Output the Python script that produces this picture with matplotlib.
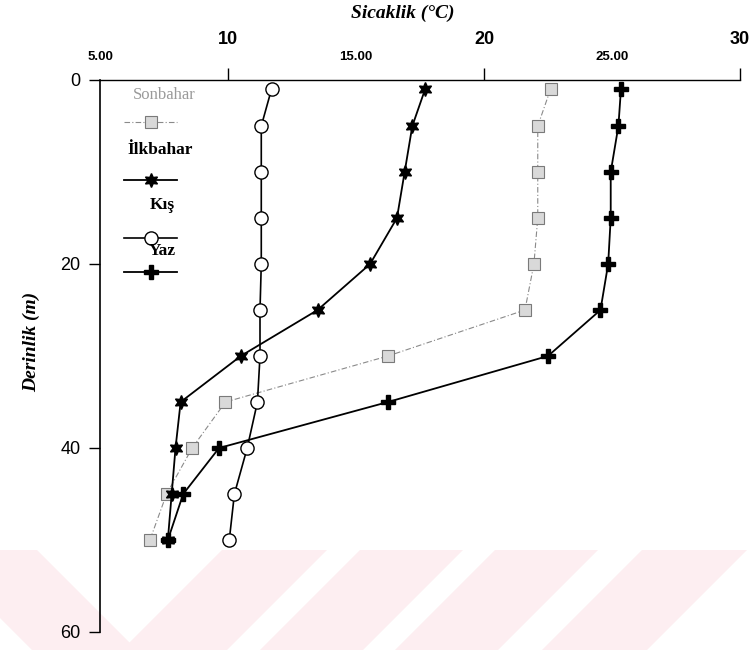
import matplotlib
matplotlib.use("Agg")
import matplotlib.pyplot as plt
from matplotlib.patches import Polygon

# derinlik (m) ve mevsimlere göre sıcaklık (°C)
derinlik = [1, 5, 10, 15, 20, 25, 30, 35, 40, 45, 50]
sonbahar = [22.6, 22.1, 22.1, 22.1, 21.95, 21.6, 16.25, 9.9, 8.6, 7.6, 6.95]
ilkbahar = [17.7, 17.2, 16.9, 16.6, 15.55, 13.5, 10.5, 8.15, 7.95, 7.8, 7.65]
kis = [11.7, 11.3, 11.3, 11.3, 11.3, 11.25, 11.25, 11.15, 10.75, 10.25, 10.05]
yaz = [25.35, 25.25, 24.95, 24.95, 24.85, 24.55, 22.5, 16.25, 9.65, 8.25, 7.65]

ust_tikler = [10, 20, 30]
ara_tikler = [5, 15, 25]
ara_etiketler = ["5.00", "15.00", "25.00"]
derinlik_tikleri = [0, 20, 40, 60]

serif = ["Liberation Serif", "DejaVu Serif"]
dar = ["Liberation Sans Narrow", "Liberation Sans", "DejaVu Sans"]

fig = plt.figure(figsize=(7.5, 6.5), dpi=100)

# arka plandaki pembe şeritler (piksel koordinatı, üstten)
seritler = [
    [(-68, 550), (37, 550), (137, 650), (32, 650)],
    [(222, 550), (327, 550), (227, 650), (122, 650)],
    [(360, 550), (463, 550), (363, 650), (260, 650)],
    [(495, 550), (598, 550), (498, 650), (395, 650)],
    [(642, 550), (747, 550), (647, 650), (542, 650)],
]
for s in seritler:
    pts = [(x / 750, 1 - y / 650) for x, y in s]
    fig.add_artist(Polygon(pts, closed=True, transform=fig.transFigure,
                           facecolor="#fdeef1", edgecolor="none", zorder=-5))

ax = fig.add_axes([100 / 750, 18 / 650, 640 / 750, 552 / 650])
ax.set_facecolor("none")

stiller = {
    "Sonbahar": dict(color="#8a8a8a", lw=0.8, ls=(0, (5, 2, 1, 2)), marker="s",
                     ms=9, mfc="#d9d9d9", mec="#7a7a7a", mew=0.8),
    "İlkbahar": dict(color="black", lw=1.3, marker=(6, 1, 0), ms=10,
                     mfc="black", mec="black"),
    "Kış": dict(color="black", lw=1.2, marker="o", ms=9.5, mfc="white",
                mec="black", mew=1.0),
    "Yaz": dict(color="black", lw=1.3, marker="P", ms=10, mfc="black",
                mec="black"),
}
seriler = {"Sonbahar": sonbahar, "İlkbahar": ilkbahar, "Kış": kis, "Yaz": yaz}

for ad, degerler in seriler.items():
    ax.plot(degerler, derinlik, clip_on=False, zorder=3, **stiller[ad])

ax.set_xlim(5, 30)
ax.set_ylim(60, 0)

for k in ["right", "bottom"]:
    ax.spines[k].set_visible(False)
ax.spines["top"].set_linewidth(1.0)
ax.spines["left"].set_linewidth(1.2)

ax.xaxis.tick_top()
ax.set_xticks(ust_tikler)
ax.set_xticklabels([str(t) for t in ust_tikler], family=dar, fontweight="bold",
                   fontsize=13)
ax.tick_params(axis="x", direction="out", length=9, width=1.0, pad=14)

ax.set_yticks(derinlik_tikleri)
ax.set_yticklabels([str(t) for t in derinlik_tikleri], family="Liberation Sans",
                   fontsize=13)
ax.tick_params(axis="y", direction="out", length=8, width=1.0, pad=6)

ikincil = ax.secondary_xaxis("top")
ikincil.set_xticks(ara_tikler)
ikincil.set_xticklabels(ara_etiketler, family=dar, fontweight="bold", fontsize=9.5)
ikincil.tick_params(length=0, pad=12)
ikincil.spines["top"].set_visible(False)

fig.text(403 / 750, 1 - 13 / 650, "Sicaklik (°C)", ha="center", va="center",
         family=serif, fontweight="bold", fontstyle="italic", fontsize=14)
fig.text(31 / 750, 1 - 342 / 650, "Derinlik (m)", ha="center", va="center",
         rotation=90, family=serif, fontweight="bold", fontstyle="italic",
         fontsize=14)

# elle yerleştirilmiş açıklama: etiket üstte, işaret altta
aciklama = [
    ("Sonbahar", 0.101, 0.973, 0.924, "normal", "#9a9a9a", 12),
    ("İlkbahar", 0.094, 0.873, 0.819, "bold", "black", 12.5),
    ("Kış", 0.098, 0.773, 0.714, "bold", "black", 12.5),
    ("Yaz", 0.098, 0.690, 0.652, "bold", "black", 12.5),
]
for ad, tx, ty, ly, kalinlik, renk, boy in aciklama:
    ax.text(tx, ty, ad, transform=ax.transAxes, ha="center", va="center",
            family=serif, fontweight=kalinlik, color=renk, fontsize=boy)
    ax.plot([0.037, 0.12], [ly, ly], transform=ax.transAxes, clip_on=False,
            **{k: v for k, v in stiller[ad].items() if k not in ("marker",)})
    ax.plot([0.079], [ly], transform=ax.transAxes, clip_on=False, ls="none",
            **{k: v for k, v in stiller[ad].items()
               if k not in ("color", "lw", "ls")})

fig.savefig("out.png", dpi=100)
